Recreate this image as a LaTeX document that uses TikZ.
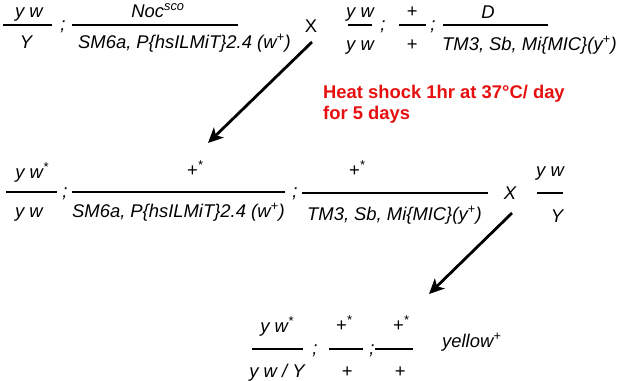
\documentclass[tikz,border=0pt]{standalone}
\usepackage{fontspec}
\setmainfont{Liberation Sans}
\usetikzlibrary{arrows.meta}
\definecolor{heatred}{RGB}{230,16,16}
\begin{document}
\begin{tikzpicture}[x=1pt,y=-1pt,
  gt/.style={inner sep=0pt, anchor=base, font=\fontsize{18.4}{22}\selectfont\itshape},
  gtl/.style={gt, anchor=base west},
  fracline/.style={line width=1.4pt},
  bigarrow/.style={line width=2.8pt, -{Stealth[length=15pt,width=14pt,inset=4pt]}},
  heat/.style={inner sep=0pt, anchor=base west, align=left, text=heatred,
    font=\fontsize{18.4}{21}\selectfont\bfseries}]
\useasboundingbox (0,0) rectangle (617,380);
% ---------- Row 1 ----------
\node[gt] (a1) at (29,17) {y w};
\draw[fracline] (3,25) -- (52,25);
\node[gt] (a2) at (26,48) {Y};
\node[gt] (s1) at (63,30) {;};
\node[gt] (b1) at (158,17) {Noc\textsuperscript{sco}};
\draw[fracline] (72,25) -- (238,25);
\node[gtl] (b2) at (78,48) {SM6a, P\{hsILMiT\}2.4 (w\textsuperscript{+})};
\node[inner sep=0pt, font=\fontsize{18.4}{22}\selectfont] (x1) at (311,26) {X};
\node[gt] (c1) at (360,17) {y w};
\draw[fracline] (348,25) -- (372,25);
\node[gt] (c2) at (360,50) {y w};
\node[gt] (s2) at (383,30) {;};
\node[gt] (d1) at (412,17) {+};
\draw[fracline] (399,25) -- (426,25);
\node[gt] (d2) at (412,50) {+};
\node[gt] (s3) at (433,30) {;};
\node[gt] (e1) at (488,18) {D};
\draw[fracline] (443,25) -- (548,25);
\node[gtl] (e2) at (442,50) {TM3, Sb, Mi\{MIC\}(y\textsuperscript{+})};
% ---------- arrow 1 + heat shock ----------
\coordinate (p1) at (312,42);
\coordinate (q1) at (208,143);
\draw[bigarrow] (p1) -- (q1);
\node[heat] (hs) at (323,119) {Heat shock 1hr at 37°C/ day\\for 5 days};
% ---------- Row 2 ----------
\node[gt] (f1) at (32,178) {y w\textsuperscript{*}};
\draw[fracline] (6,192) -- (57,192);
\node[gt] (f2) at (29,217) {y w};
\node[gt] (s4) at (65,197) {;};
\node[gt] (g1) at (195,176) {+\textsuperscript{*}};
\draw[fracline] (72,192) -- (285,192);
\node[gtl] (g2) at (72,217) {SM6a, P\{hsILMiT\}2.4 (w\textsuperscript{+})};
\node[gt] (s5) at (295,197) {;};
\node[gt] (h1) at (357,176) {+\textsuperscript{*}};
\draw[fracline] (302,193) -- (488,193);
\node[gtl] (h2) at (307,220) {TM3, Sb, Mi\{MIC\}(y\textsuperscript{+})};
\node[gt] (x2) at (510,199) {X};
\node[gt] (i1) at (550,176) {y w};
\draw[fracline] (537,193) -- (563,193);
\node[gt] (i2) at (557,222) {Y};
% ---------- arrow 2 ----------
\coordinate (p2) at (512,213);
\coordinate (q2) at (429,294);
\draw[bigarrow] (p2) -- (q2);
% ---------- Row 3 ----------
\node[gt] (j1) at (277,332) {y w\textsuperscript{*}};
\draw[fracline] (252,349) -- (303,349);
\node[gt] (j2) at (277,377) {y w / Y};
\node[gt] (s6) at (315,354) {;};
\node[gt] (k1) at (344,331) {+\textsuperscript{*}};
\draw[fracline] (329,349) -- (363,349);
\node[gt] (k2) at (347,377) {+};
\node[gt] (s7) at (372,354) {;};
\node[gt] (l1) at (401,331) {+\textsuperscript{*}};
\draw[fracline] (375,349) -- (413,349);
\node[gt] (l2) at (400,377) {+};
\node[gtl] (m1) at (442,347) {yellow\textsuperscript{+}};
\end{tikzpicture}
\end{document}
